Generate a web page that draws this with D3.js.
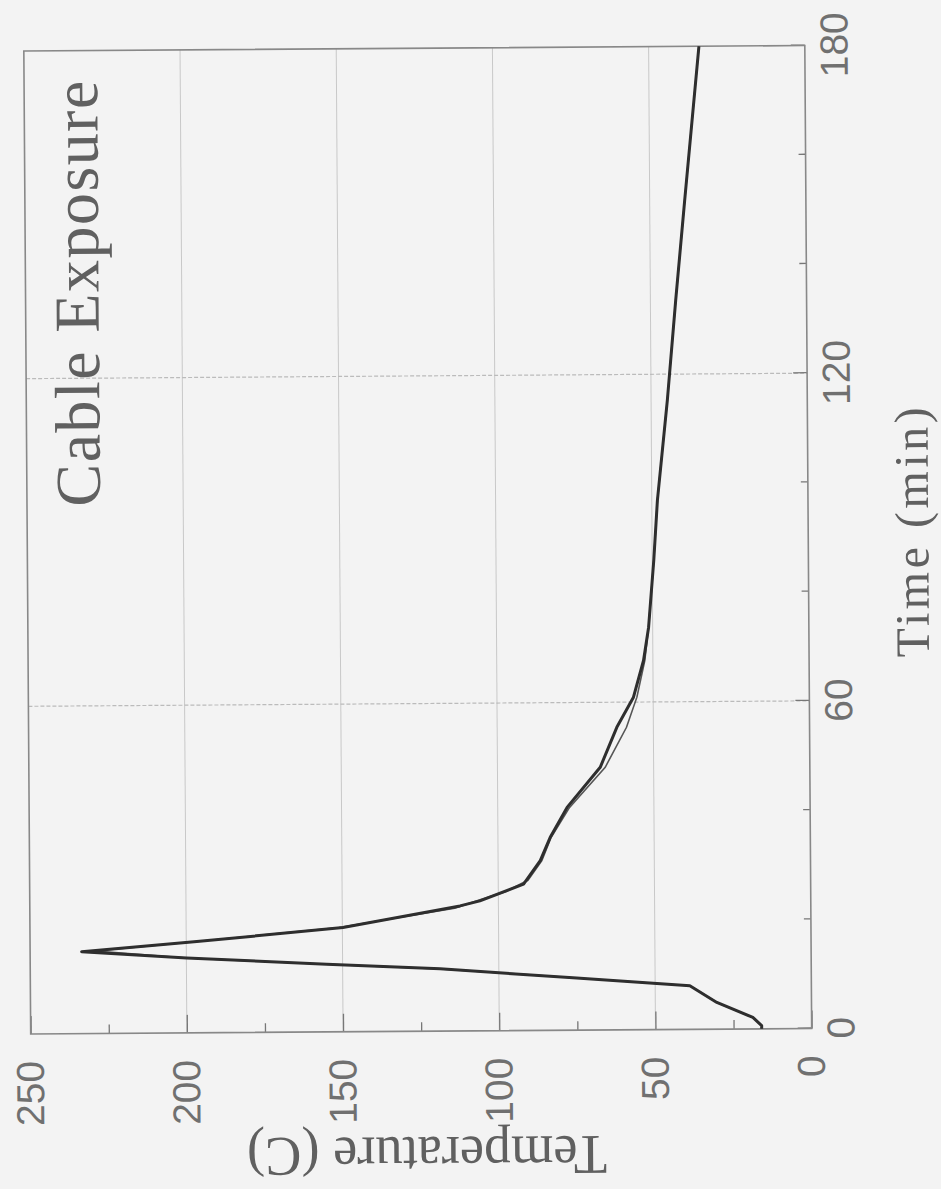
<!DOCTYPE html>
<html lang="en">
<head>
<meta charset="utf-8">
<title>Cable Exposure</title>
<script src="https://d3js.org/d3.v7.min.js"></script>
<style>
  body {margin: 0; background: #f3f3f3;}
  svg {display: block;}
  .tick text {font-family: "Liberation Sans", Arial, sans-serif; font-size: 39px; fill: #707070;}
  .tick line {stroke: #777; stroke-width: 1.3;}
  .label {font-family: "Liberation Serif", "Times New Roman", serif; fill: #606060;}
</style>
</head>
<body>
<svg width="941" height="1189"></svg>
<script>
// cable temperature trace (time in min, temperature in C)
var timeA = [0, 0.6, 2.1, 4.9, 8.0, 9.6, 11.4, 12.4, 13.7, 15.0, 16.7, 19.1, 22.9, 23.8, 26.8, 31.1, 35.3, 40.8, 48.1, 55.4, 60.9, 67.6, 73.7, 85.9, 96.9, 115.2, 133.5, 151.8, 180];
var tempA = [16.0, 16.0, 18.8, 30.3, 38.9, 76.3, 118.8, 155.1, 199.9, 233.5, 196.6, 149.8, 112.3, 105.9, 91.9, 86.5, 83.3, 77.8, 67.1, 61.7, 56.3, 53.0, 51.3, 49.5, 48.2, 44.8, 41.9, 38.8, 33.9];

// second trace, almost on top of the first
var timeB = [0, 0.6, 2.1, 4.9, 8.0, 9.6, 11.4, 12.4, 13.7, 15.1, 16.8, 19.1, 22.5, 25.5, 27.5, 31.1, 35.3, 40.8, 48.1, 55.4, 60.9, 67.6, 73.7, 85.9, 96.9, 115.2, 133.5, 151.8, 180];
var tempB = [16.0, 16.0, 18.8, 30.3, 38.9, 76.3, 118.8, 155.1, 199.9, 229.0, 195.0, 151.0, 114.0, 97.5, 90.5, 86.0, 83.0, 77.0, 65.5, 58.6, 55.2, 52.6, 51.3, 49.5, 48.2, 44.8, 41.9, 38.8, 33.9];

var timeTicks = [0, 60, 120, 180];
var timeMinor = [20, 40, 80, 100, 140, 160];
var tempTicks = [0, 50, 100, 150, 200, 250];
var tempMinor = [25, 75, 125, 175, 225];

var W = 983, H = 781;

var svg = d3.select("svg");
svg.append("rect").attr("width", 941).attr("height", 1189).attr("fill", "#f3f3f3");

// the scanned page is lying on its side: draw the chart upright, then turn it
var g = svg.append("g")
  .attr("transform", "translate(417.75,539.75) rotate(-90.4) translate(" + (-W / 2) + "," + (-H / 2) + ")");

var x = d3.scaleLinear().domain([0, 180]).range([0, W]);
var y = d3.scaleLinear().domain([0, 250]).range([H, 0]);

//grid lines
g.append("g").selectAll("line")
  .data(tempTicks.slice(1, -1))
  .join("line")
    .attr("x1", 0).attr("x2", W)
    .attr("y1", function(d) { return y(d); })
    .attr("y2", function(d) { return y(d); })
    .attr("stroke", "#c8c8c8").attr("stroke-width", 1);

g.append("g").selectAll("line")
  .data(timeTicks.slice(1, -1))
  .join("line")
    .attr("x1", function(d) { return x(d); })
    .attr("x2", function(d) { return x(d); })
    .attr("y1", 0).attr("y2", H)
    .attr("stroke", "#bbb").attr("stroke-width", 1.2)
    .attr("stroke-dasharray", "4,2");

//axes, ticks pointing into the plot
g.append("g")
  .call(d3.axisLeft(y).tickValues(tempTicks).tickSize(-18).tickPadding(27));
g.append("g")
  .call(d3.axisLeft(y).tickValues(tempMinor).tickSize(-9).tickFormat(""));
g.append("g")
  .attr("transform", "translate(0," + H + ")")
  .call(d3.axisBottom(x).tickValues(timeTicks).tickSize(-14).tickPadding(15));
g.append("g")
  .attr("transform", "translate(0," + H + ")")
  .call(d3.axisBottom(x).tickValues(timeMinor).tickSize(-7).tickFormat(""));
g.selectAll(".domain").remove();

//frame
g.append("rect")
  .attr("width", W).attr("height", H)
  .attr("fill", "none").attr("stroke", "#888").attr("stroke-width", 1.6);

//the two traces
var line = d3.line()
  .x(function(d) { return x(d[0]); })
  .y(function(d) { return y(d[1]); });

g.append("path")
  .datum(d3.zip(timeB, tempB))
  .attr("d", line)
  .attr("fill", "none").attr("stroke", "#555").attr("stroke-width", 1.6);

g.append("path")
  .datum(d3.zip(timeA, tempA))
  .attr("d", line)
  .attr("fill", "none").attr("stroke", "#2e2e2e").attr("stroke-width", 3)
  .attr("stroke-linejoin", "round");

//titles
g.append("text")
  .attr("class", "label")
  .attr("x", W - 456).attr("y", 73)
  .attr("font-size", 64)
  .attr("textLength", 426).attr("lengthAdjust", "spacing")
  .text("Cable Exposure");

g.append("text")
  .attr("class", "label")
  .attr("x", W / 2 + 4).attr("y", H + 120)
  .attr("text-anchor", "middle")
  .attr("font-size", 48)
  .attr("textLength", 250).attr("lengthAdjust", "spacing")
  .text("Time (min)");

g.append("text")
  .attr("class", "label")
  .attr("transform", "translate(-106," + (H / 2 + 5) + ") rotate(-90)")
  .attr("text-anchor", "middle")
  .attr("font-size", 56)
  .attr("textLength", 360).attr("lengthAdjust", "spacingAndGlyphs")
  .text("Temperature (C)");
</script>
</body>
</html>
